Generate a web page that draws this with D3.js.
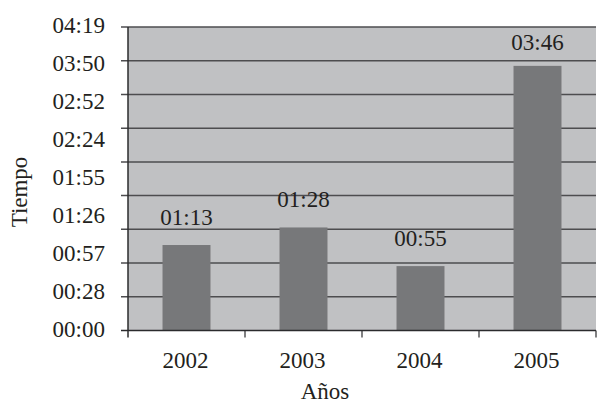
<!DOCTYPE html>
<html>
<head>
<meta charset="utf-8">
<script src="https://cdn.jsdelivr.net/npm/d3@7"></script>
<style>
  html, body { margin: 0; padding: 0; background: #ffffff; }
  svg { display: block; }
</style>
</head>
<body>
<svg id="chart" width="597" height="404"></svg>
<script>
// ---- data ----
const years = ["2002", "2003", "2004", "2005"];
const tiempoSegundos = [73, 88, 55, 226];           // 01:13, 01:28, 00:55, 03:46
const gridValues = [0, 28.8, 57.6, 86.4, 115.2, 144, 172.8, 201.6, 230.4, 259.2];
const yTickLabels = ["00:00", "00:28", "00:57", "01:26", "01:55", "02:24", "02:52", "03:50", "04:19"];
const xTitle = "Años";
const yTitle = "Tiempo";

// ---- layout ----
const plot = { left: 128, right: 596, top: 27, bottom: 330.5 };
const fontSize = 23;
const FONT = "'Liberation Serif', 'DejaVu Serif', serif";
const INK = "#231f20";

const svg = d3.select("#chart")
  .attr("font-family", FONT);

const x = d3.scaleBand()
  .domain(years)
  .range([plot.left, plot.right])
  .paddingInner(0.59)
  .paddingOuter(0.295);

const y = d3.scaleLinear()
  .domain([0, d3.max(gridValues)])
  .range([plot.bottom, plot.top]);

// tick labels spread evenly along the axis (as in the original)
const yLab = d3.scalePoint()
  .domain(yTickLabels)
  .range([plot.bottom, plot.top]);

const fmt = s => {
  const m = Math.floor(s / 60), r = Math.round(s % 60);
  return String(m).padStart(2, "0") + ":" + String(r).padStart(2, "0");
};

function label(sel) {
  return sel.attr("font-family", FONT).attr("font-size", fontSize).attr("fill", INK);
}

// plot background
svg.append("rect")
  .attr("x", plot.left).attr("y", plot.top)
  .attr("width", plot.right - plot.left)
  .attr("height", plot.bottom - plot.top)
  .attr("fill", "#c0c1c3");

// gridlines (with left tick stubs)
svg.append("g").selectAll("line")
  .data(gridValues.slice(1))
  .join("line")
  .attr("x1", plot.left - 7).attr("x2", plot.right)
  .attr("y1", d => y(d)).attr("y2", d => y(d))
  .attr("stroke", "#4d4d4f")
  .attr("stroke-width", 1.5);

// bars
svg.append("g").selectAll("rect")
  .data(tiempoSegundos)
  .join("rect")
  .attr("x", (d, i) => x(years[i]))
  .attr("width", x.bandwidth())
  .attr("y", d => y(d))
  .attr("height", d => y(0) - y(d))
  .attr("fill", "#77787a");

// value labels
svg.append("g").selectAll("text")
  .data(tiempoSegundos)
  .join("text")
  .call(label)
  .attr("x", (d, i) => x(years[i]) + x.bandwidth() / 2)
  .attr("y", d => Math.max(y(d) - 20, plot.top + 23))
  .attr("text-anchor", "middle")
  .text(d => fmt(d));

// x axis line and ticks
svg.append("line")
  .attr("x1", plot.left - 7).attr("x2", plot.right)
  .attr("y1", plot.bottom).attr("y2", plot.bottom)
  .attr("stroke", "#2b2b2d").attr("stroke-width", 1.5);

const step = x.step();
const boundaries = years.map(d => x(d) - x.paddingOuter() * step).concat([plot.right]);
svg.append("g").selectAll("line")
  .data(boundaries.slice(1))
  .join("line")
  .attr("x1", d => d).attr("x2", d => d)
  .attr("y1", plot.bottom).attr("y2", plot.bottom + 7)
  .attr("stroke", "#2b2b2d").attr("stroke-width", 1.2);

// y axis line
svg.append("line")
  .attr("x1", plot.left).attr("x2", plot.left)
  .attr("y1", plot.top).attr("y2", plot.bottom + 7)
  .attr("stroke", "#2b2b2d").attr("stroke-width", 1.5);

// y tick labels
svg.append("g").selectAll("text")
  .data(yTickLabels)
  .join("text")
  .call(label)
  .attr("x", 105)
  .attr("y", d => yLab(d) + 6)
  .attr("text-anchor", "end")
  .text(d => d);

// x tick labels
svg.append("g").selectAll("text")
  .data(years)
  .join("text")
  .call(label)
  .attr("x", d => x(d) + x.bandwidth() / 2 - 1)
  .attr("y", 368)
  .attr("text-anchor", "middle")
  .text(d => d);

// axis titles
svg.append("text")
  .call(label)
  .attr("x", 325).attr("y", 399)
  .attr("text-anchor", "middle")
  .text(xTitle);

svg.append("text")
  .call(label)
  .attr("transform", "translate(27,192) rotate(-90)")
  .attr("text-anchor", "middle")
  .text(yTitle);
</script>
</body>
</html>
